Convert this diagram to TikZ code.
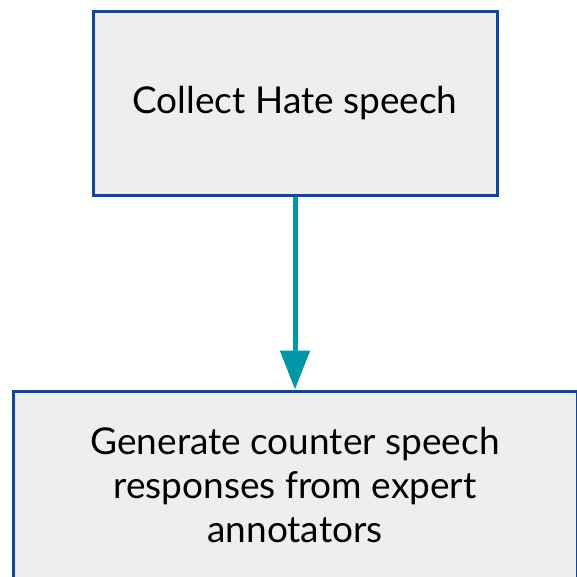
\documentclass[tikz,border=0pt]{standalone}
\usepackage{fontspec}
\setmainfont{Lato}
\definecolor{boxblue}{HTML}{0D47A1}
\definecolor{boxfill}{HTML}{EEEEEE}
\definecolor{flowteal}{HTML}{0097A7}
\usetikzlibrary{arrows.meta}
\tikzset{
	stepbox/.style={draw=boxblue, fill=boxfill, line width=3pt, align=center,
		font=\fontsize{37}{44}\selectfont, inner sep=0pt},
	flow/.style={draw=flowteal, line width=5pt,
		-{Triangle[length=39pt, width=29pt]}}
}
\begin{document}
\begin{tikzpicture}[x=1pt, y=-1pt]
	\useasboundingbox (0, 0) rectangle (577, 576);
	\clip (0, 0) rectangle (577, 576);

	\node[stepbox, minimum width=404pt, minimum height=184pt]	(collect)	at (295, 103) 	{Collect Hate speech};
	\node[stepbox, minimum width=564pt, minimum height=188pt]	(generate)	at (295, 485) 	{Generate counter speech\\responses from expert\\annotators};

	\draw[flow] (collect) -- (generate);
\end{tikzpicture}
\end{document}
